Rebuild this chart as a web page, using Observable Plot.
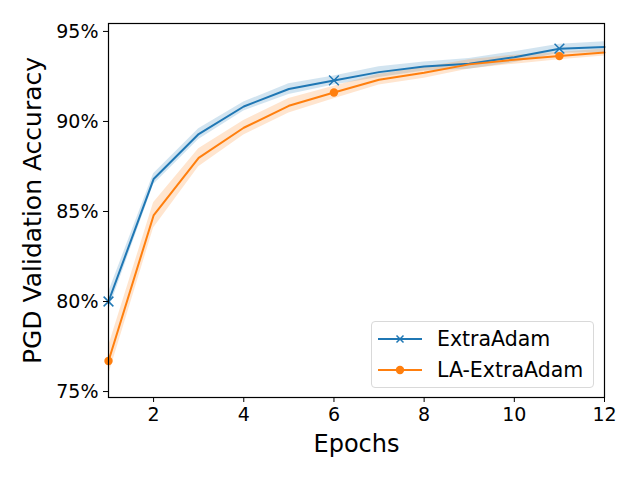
<!DOCTYPE html>
<html>
<head>
<meta charset="utf-8">
<script src="https://cdn.jsdelivr.net/npm/d3@7"></script>
<script src="https://cdn.jsdelivr.net/npm/@observablehq/plot@0.6"></script>
<style>
  body { margin: 0; background: #fff; }
  #chart { position: relative; width: 640px; height: 480px; font-family: "DejaVu Sans", sans-serif; }
  .legend {
    position: absolute; left: 371px; top: 321px; width: 223px; height: 67px;
    border: 1px solid #d9d9d9; border-radius: 4px; background: rgba(255,255,255,0.8);
    font-size: 20.5px; color: #000; box-sizing: border-box; padding: 2px 0 0 6px;
  }
  .legend div { display: flex; align-items: center; height: 30.5px; }
  .legend svg { margin-right: 15px; }
</style>
</head>
<body>
<div id="chart"></div>
<script>
const epochs = [1, 2, 3, 4, 5, 6, 7, 8, 9, 10, 11, 12];
const extraAdam = [80.0, 86.8, 89.3, 90.83, 91.8, 92.28, 92.74, 93.05, 93.2, 93.57, 94.04, 94.13];
const extraAdamStd = [0.5, 0.3, 0.3, 0.25, 0.3, 0.25, 0.3, 0.25, 0.3, 0.3, 0.25, 0.3];
const laExtraAdam = [76.7, 84.78, 87.98, 89.65, 90.87, 91.61, 92.32, 92.7, 93.17, 93.43, 93.63, 93.83];
const laExtraAdamStd = [0.8, 0.7, 0.5, 0.4, 0.4, 0.35, 0.3, 0.3, 0.25, 0.25, 0.2, 0.2];
const yTicks = [75, 80, 85, 90, 95];
const xTicks = [2, 4, 6, 8, 10, 12];

const blue = "#1f77b4", orange = "#ff7f0e";

const rows = (vals, std, name) => epochs.map((e, i) => ({
  epoch: e, acc: vals[i], lo: vals[i] - std[i], hi: vals[i] + std[i], name
}));
const blueData = rows(extraAdam, extraAdamStd, "ExtraAdam");
const orangeData = rows(laExtraAdam, laExtraAdamStd, "LA-ExtraAdam");
const marked = d => (d.epoch - 1) % 5 === 0;

const chart = Plot.plot({
  width: 640,
  height: 480,
  marginLeft: 108,
  marginRight: 36,
  marginTop: 23,
  marginBottom: 83,
  style: { fontFamily: "DejaVu Sans", fontSize: 19, background: "#fff", color: "#000" },
  x: { domain: [1, 12] },
  y: { domain: [74.67, 95.44] },
  marks: [
    Plot.areaY(blueData, { x: "epoch", y1: "lo", y2: "hi", fill: blue, fillOpacity: 0.2 }),
    Plot.areaY(orangeData, { x: "epoch", y1: "lo", y2: "hi", fill: orange, fillOpacity: 0.2 }),
    Plot.line(blueData, { x: "epoch", y: "acc", stroke: blue, strokeWidth: 2 }),
    Plot.line(orangeData, { x: "epoch", y: "acc", stroke: orange, strokeWidth: 2 }),
    Plot.dot(blueData.filter(marked), { x: "epoch", y: "acc", symbol: "times", r: 4.5, stroke: blue, strokeWidth: 1.5 }),
    Plot.dot(orangeData.filter(marked), { x: "epoch", y: "acc", r: 4.2, fill: orange }),
    Plot.frame({ stroke: "#000", strokeWidth: 1.2 }),
    Plot.axisX({ ticks: xTicks, tickSize: 5, tickPadding: 5, fontSize: 19, label: null }),
    Plot.axisY({ ticks: yTicks, tickSize: 5, tickPadding: 5, fontSize: 19, tickFormat: d => d + "%", label: null }),
    Plot.text(["Epochs"], { frameAnchor: "bottom", dy: 54, fontSize: 24 }),
    Plot.text(["PGD Validation Accuracy"], { frameAnchor: "left", textAnchor: "middle", dx: -76, rotate: -90, fontSize: 25 })
  ]
});

const holder = d3.select("#chart");
holder.append(() => chart);

const legend = holder.append("div").attr("class", "legend");
legend.append("div").html(
  `<svg width="44" height="12"><line x1="0" y1="6" x2="44" y2="6" stroke="${blue}" stroke-width="2"/>` +
  `<path d="M18.5,2.5L25.5,9.5M25.5,2.5L18.5,9.5" stroke="${blue}" stroke-width="1.5"/></svg>ExtraAdam`);
legend.append("div").html(
  `<svg width="44" height="12"><line x1="0" y1="6" x2="44" y2="6" stroke="${orange}" stroke-width="2"/>` +
  `<circle cx="22" cy="6" r="4.2" fill="${orange}"/></svg>LA-ExtraAdam`);
</script>
</body>
</html>
